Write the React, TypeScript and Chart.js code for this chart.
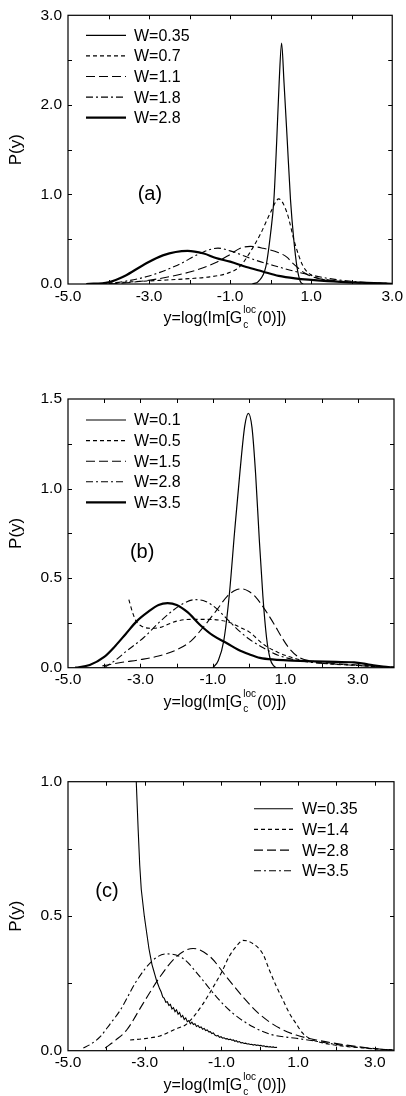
import React, { useEffect, useRef } from 'react';
import { Chart, registerables } from 'chart.js';

Chart.register(...registerables);

type Pt = [number, number];

// ---------- Panel (a) ----------
const aLegend = ['W=0.35', 'W=0.7', 'W=1.1', 'W=1.8', 'W=2.8'];
const aXTicks = [-5, -3, -1, 1, 3];
const aYTicks = [0, 1, 2, 3];
const aW035: Pt[] = [[-0.45,0],[-0.3,0.03],[-0.12,0.19],[0.0,0.57],[0.08,0.94],[0.15,1.6],[0.21,2.25],[0.27,2.69],[0.33,2.25],[0.41,1.6],[0.49,0.94],[0.57,0.5],[0.65,0.19],[0.73,0.03],[0.8,0]];
const aW07: Pt[] = [[-4.0,0.005],[-3.6,0.02],[-2.75,0.04],[-2.0,0.06],[-1.5,0.08],[-1.0,0.13],[-0.75,0.2],[-0.5,0.36],[-0.25,0.56],[0.0,0.8],[0.2,0.95],[0.4,0.8],[0.6,0.45],[0.8,0.2],[1.0,0.1],[1.25,0.055],[1.5,0.035],[2.0,0.018],[2.5,0.008],[3.0,0.003]];
const aW11: Pt[] = [[-4.0,0],[-3.4,0.02],[-2.75,0.06],[-1.95,0.14],[-1.35,0.24],[-1.0,0.33],[-0.75,0.4],[-0.5,0.42],[-0.2,0.4],[0.2,0.35],[0.4,0.3],[0.55,0.23],[0.85,0.12],[1.1,0.07],[1.45,0.045],[2.0,0.02],[2.6,0.01],[3.0,0.005]];
const aW18: Pt[] = [[-4.2,0],[-3.6,0.03],[-3.0,0.09],[-2.3,0.21],[-1.7,0.35],[-1.3,0.4],[-1.0,0.37],[-0.4,0.27],[0.2,0.19],[0.6,0.14],[1.1,0.09],[1.45,0.06],[2.0,0.03],[2.6,0.01],[3.0,0.005]];
const aW28: Pt[] = [[-4.55,0],[-4.0,0.02],[-3.6,0.09],[-3.15,0.21],[-2.66,0.32],[-2.05,0.37],[-1.65,0.34],[-1.35,0.29],[-1.0,0.25],[-0.6,0.19],[-0.2,0.14],[0.2,0.09],[0.6,0.063],[1.4,0.033],[2.2,0.015],[3.0,0.003]];

// ---------- Panel (b) ----------
const bLegend = ['W=0.1', 'W=0.5', 'W=1.5', 'W=2.8', 'W=3.5'];
const bXTicks = [-5, -3, -1, 1, 3];
const bYTicks = [0, 0.5, 1.0, 1.5];
const bW01: Pt[] = [[-1.0,0],[-0.85,0.04],[-0.7,0.15],[-0.55,0.4],[-0.4,0.76],[-0.25,1.1],[-0.12,1.35],[-0.02,1.42],[0.08,1.34],[0.18,1.08],[0.28,0.72],[0.38,0.4],[0.48,0.17],[0.58,0.05],[0.68,0.01],[0.75,0]];
const bW05: Pt[] = [[-3.32,0.38],[-3.22,0.31],[-3.12,0.26],[-2.95,0.23],[-2.7,0.22],[-2.45,0.225],[-2.2,0.245],[-2.0,0.26],[-1.6,0.27],[-1.2,0.27],[-0.8,0.265],[-0.5,0.25],[-0.25,0.225],[0.0,0.2],[0.4,0.13],[0.8,0.085],[1.3,0.05],[1.8,0.03],[2.3,0.02],[3.0,0.013],[3.5,0.006],[4.0,0.002]];
const bW15: Pt[] = [[-4.05,0.01],[-3.5,0.03],[-3.0,0.045],[-2.5,0.065],[-2.0,0.1],[-1.6,0.15],[-1.25,0.23],[-0.9,0.32],[-0.6,0.4],[-0.35,0.435],[-0.2,0.44],[0.0,0.425],[0.2,0.39],[0.45,0.32],[0.7,0.24],[0.9,0.17],[1.1,0.11],[1.4,0.055],[1.8,0.035],[2.3,0.025],[3.0,0.015],[3.6,0.007],[4.0,0.003]];
const bW28: Pt[] = [[-4.0,0],[-3.7,0.04],[-3.4,0.09],[-2.9,0.17],[-2.5,0.25],[-2.1,0.32],[-1.8,0.36],[-1.5,0.38],[-1.2,0.37],[-0.9,0.33],[-0.6,0.27],[-0.3,0.21],[0.0,0.16],[0.4,0.11],[0.8,0.07],[1.3,0.042],[1.8,0.028],[2.4,0.02],[3.0,0.012],[3.6,0.005],[4.0,0.002]];
const bW35: Pt[] = [[-4.8,0],[-4.4,0.015],[-4.0,0.06],[-3.7,0.12],[-3.4,0.19],[-3.1,0.26],[-2.8,0.31],[-2.5,0.35],[-2.25,0.36],[-2.0,0.35],[-1.7,0.31],[-1.36,0.24],[-1.0,0.18],[-0.6,0.135],[-0.3,0.1],[0.0,0.075],[0.3,0.055],[0.7,0.045],[1.2,0.04],[1.8,0.035],[2.4,0.032],[2.9,0.03],[3.3,0.018],[3.7,0.006],[4.0,0]];

// ---------- Panel (c) ----------
const cLegend = ['W=0.35', 'W=1.4', 'W=2.8', 'W=3.5'];
const cXTicks = [-5, -3, -1, 1, 3];
const cYTicks = [0, 0.5, 1.0];
const cW035: Pt[] = [[-3.22,1.0],[-3.17,0.82],[-3.13,0.69],[-3.09,0.6],[-3.05,0.55],[-3.01,0.5],[-2.97,0.46],[-2.93,0.42],[-2.89,0.38],[-2.85,0.35],[-2.81,0.32],[-2.77,0.3],[-2.73,0.28],[-2.69,0.26],[-2.65,0.245],[-2.61,0.23],[-2.57,0.218],[-2.53,0.2],[-2.49,0.195],[-2.45,0.18],[-2.41,0.182],[-2.37,0.168],[-2.33,0.172],[-2.29,0.155],[-2.25,0.16],[-2.21,0.145],[-2.17,0.152],[-2.13,0.136],[-2.09,0.142],[-2.05,0.125],[-2.01,0.131],[-1.97,0.116],[-1.93,0.122],[-1.89,0.108],[-1.85,0.112],[-1.81,0.1],[-1.77,0.106],[-1.73,0.097],[-1.69,0.1],[-1.65,0.09],[-1.61,0.094],[-1.57,0.086],[-1.53,0.088],[-1.49,0.08],[-1.45,0.083],[-1.41,0.075],[-1.37,0.077],[-1.33,0.07],[-1.29,0.071],[-1.25,0.064],[-1.21,0.066],[-1.17,0.058],[-1.13,0.055],[-1.09,0.057],[-1.05,0.05],[-1.01,0.052],[-0.97,0.047],[-0.93,0.048],[-0.89,0.044],[-0.85,0.045],[-0.81,0.041],[-0.77,0.043],[-0.73,0.039],[-0.69,0.04],[-0.65,0.035],[-0.61,0.037],[-0.57,0.032],[-0.53,0.034],[-0.49,0.029],[-0.45,0.03],[-0.41,0.027],[-0.37,0.028],[-0.33,0.025],[-0.29,0.026],[-0.25,0.023],[-0.21,0.024],[-0.17,0.021],[-0.13,0.023],[-0.09,0.02],[-0.05,0.021],[-0.01,0.019],[0.03,0.02],[0.07,0.017],[0.11,0.018],[0.15,0.015],[0.19,0.016],[0.23,0.014],[0.27,0.015],[0.31,0.013],[0.35,0.014],[0.39,0.012],[0.43,0.013],[0.45,0.012]];
const cW14: Pt[] = [[-3.38,0.04],[-3.0,0.045],[-2.6,0.055],[-2.2,0.08],[-1.9,0.1],[-1.5,0.17],[-1.2,0.24],[-1.0,0.29],[-0.8,0.35],[-0.6,0.39],[-0.44,0.41],[-0.2,0.4],[0.08,0.36],[0.25,0.3],[0.43,0.24],[0.6,0.19],[0.77,0.14],[0.95,0.1],[1.12,0.065],[1.3,0.045],[1.5,0.034],[1.9,0.022],[2.3,0.015],[2.7,0.01],[3.1,0.006],[3.5,0.003]];
const cW28: Pt[] = [[-4.03,0.01],[-3.75,0.04],[-3.47,0.077],[-3.04,0.176],[-2.6,0.275],[-2.17,0.35],[-1.74,0.38],[-1.3,0.35],[-0.87,0.275],[-0.44,0.2],[0.0,0.135],[0.5,0.085],[0.95,0.058],[1.47,0.04],[2.25,0.021],[2.85,0.01],[3.3,0.004],[3.5,0.002]];
const cW35: Pt[] = [[-4.6,0.01],[-4.4,0.025],[-4.16,0.052],[-3.9,0.1],[-3.64,0.15],[-3.21,0.26],[-2.78,0.337],[-2.43,0.36],[-2.0,0.343],[-1.56,0.275],[-1.13,0.2],[-0.7,0.139],[-0.18,0.089],[0.3,0.06],[0.95,0.046],[1.47,0.035],[2.25,0.018],[2.9,0.008],[3.4,0.003]];

// ---------- styles ----------
const SOLID: number[] = [];
const SHORT = [4, 3];
const LONG = [9, 4];
const DASHDOT = [7, 3, 2, 3];
const FONT = 'Arial, "Liberation Sans", Helvetica, sans-serif';

type Series = { data: Pt[]; dash: number[]; width: number; label: string; tension?: boolean };

type PanelCfg = {
  top: number;
  height: number;
  padTop: number;
  xAxisH: number;
  xMin: number; xMax: number;
  yMin: number; yMax: number;
  xTicks: number[]; yTicks: number[];
  xMinor: number; yMinor: number;
  series: Series[];
  letter: string; letterX: number; letterY: number;
  legX0: number; legX1: number; legTx: number; legY: number; legDy: number;
};

const panels: PanelCfg[] = [
  {
    top: 0, height: 340, padTop: 15, xAxisH: 56,
    xMin: -5, xMax: 3, yMin: 0, yMax: 3,
    xTicks: aXTicks, yTicks: aYTicks, xMinor: 1, yMinor: 0.5,
    series: [
      { data: aW035, dash: SOLID, width: 1.2, label: aLegend[0] },
      { data: aW07, dash: SHORT, width: 1.1, label: aLegend[1] },
      { data: aW11, dash: LONG, width: 1.1, label: aLegend[2] },
      { data: aW18, dash: DASHDOT, width: 1.1, label: aLegend[3] },
      { data: aW28, dash: SOLID, width: 2.2, label: aLegend[4] },
    ],
    letter: '(a)', letterX: -3.28, letterY: 0.94,
    legX0: 18, legX1: 58, legTx: 66, legY: 20, legDy: 20.6,
  },
  {
    top: 340, height: 380, padTop: 59, xAxisH: 52.3,
    xMin: -5, xMax: 4, yMin: 0, yMax: 1.5,
    xTicks: bXTicks, yTicks: bYTicks, xMinor: 1, yMinor: 0.25,
    series: [
      { data: bW01, dash: SOLID, width: 1.2, label: bLegend[0] },
      { data: bW05, dash: SHORT, width: 1.1, label: bLegend[1] },
      { data: bW15, dash: LONG, width: 1.1, label: bLegend[2] },
      { data: bW28, dash: DASHDOT, width: 1.1, label: bLegend[3] },
      { data: bW35, dash: SOLID, width: 2.2, label: bLegend[4] },
    ],
    letter: '(b)', letterX: -3.29, letterY: 0.61,
    legX0: 18, legX1: 58, legTx: 66, legY: 21, legDy: 20.6,
  },
  {
    top: 720, height: 376, padTop: 61.7, xAxisH: 45.3,
    xMin: -5, xMax: 3.5, yMin: 0, yMax: 1.0,
    xTicks: cXTicks, yTicks: cYTicks, xMinor: 1, yMinor: 0.25,
    series: [
      { data: cW035, dash: SOLID, width: 1.1, label: cLegend[0], tension: false },
      { data: cW14, dash: SHORT, width: 1.1, label: cLegend[1] },
      { data: cW28, dash: LONG, width: 1.1, label: cLegend[2] },
      { data: cW35, dash: DASHDOT, width: 1.1, label: cLegend[3] },
    ],
    letter: '(c)', letterX: -4.29, letterY: 0.57,
    legX0: 186, legX1: 225, legTx: 234, legY: 27, legDy: 20.7,
  },
];

function makeDecor(cfg: PanelCfg) {
  return {
    id: 'decor',
    afterDraw(chart: any) {
      const ctx: CanvasRenderingContext2D = chart.ctx;
      const { left, right, top, bottom } = chart.chartArea;
      const xs = chart.scales.x;
      const ys = chart.scales.y;
      ctx.save();
      ctx.strokeStyle = '#000';
      ctx.fillStyle = '#000';
      ctx.setLineDash([]);
      ctx.lineWidth = 1.2;
      ctx.strokeRect(left, top, right - left, bottom - top);
      // inward ticks, mirrored
      ctx.lineWidth = 1;
      const tl = 4;
      for (let v = cfg.xMin + cfg.xMinor; v < cfg.xMax - 1e-9; v += cfg.xMinor) {
        const p = Math.round(xs.getPixelForValue(v)) + 0.5;
        ctx.beginPath();
        ctx.moveTo(p, bottom); ctx.lineTo(p, bottom - tl);
        ctx.moveTo(p, top); ctx.lineTo(p, top + tl);
        ctx.stroke();
      }
      for (let v = cfg.yMin + cfg.yMinor; v < cfg.yMax - 1e-9; v += cfg.yMinor) {
        const p = Math.round(ys.getPixelForValue(v)) + 0.5;
        ctx.beginPath();
        ctx.moveTo(left, p); ctx.lineTo(left + tl, p);
        ctx.moveTo(right, p); ctx.lineTo(right - tl, p);
        ctx.stroke();
      }
      // legend
      cfg.series.forEach((s, i) => {
        const y = top + cfg.legY + i * cfg.legDy;
        ctx.lineWidth = s.width;
        ctx.setLineDash(s.dash);
        ctx.beginPath();
        ctx.moveTo(left + cfg.legX0, y);
        ctx.lineTo(left + cfg.legX1, y);
        ctx.stroke();
        ctx.setLineDash([]);
        ctx.font = `16px ${FONT}`;
        ctx.textAlign = 'left';
        ctx.textBaseline = 'middle';
        ctx.fillText(s.label, left + cfg.legTx, y + 1);
      });
      // panel letter
      ctx.font = `20px ${FONT}`;
      ctx.textAlign = 'left';
      ctx.textBaseline = 'alphabetic';
      ctx.fillText(cfg.letter, xs.getPixelForValue(cfg.letterX), ys.getPixelForValue(cfg.letterY));
      // y title
      ctx.save();
      ctx.translate(16, (top + bottom) / 2);
      ctx.rotate(-Math.PI / 2);
      ctx.font = `17px ${FONT}`;
      ctx.textAlign = 'center';
      ctx.textBaseline = 'middle';
      ctx.fillText('P(y)', 0, 0);
      ctx.restore();
      // x title with sub/superscript
      const base = bottom + 39;
      const mainFont = `16px ${FONT}`;
      const smallFont = `10px ${FONT}`;
      const p1 = 'y=log(Im[G';
      const p2 = '(0)])';
      ctx.font = mainFont;
      const w1 = ctx.measureText(p1).width;
      const w3 = ctx.measureText(p2).width;
      ctx.font = smallFont;
      const w2 = Math.max(ctx.measureText('loc').width, ctx.measureText('c').width);
      const total = w1 + w2 + w3 + 2;
      let x = 225 - total / 2;
      ctx.textAlign = 'left';
      ctx.textBaseline = 'alphabetic';
      ctx.font = mainFont;
      ctx.fillText(p1, x, base);
      x += w1;
      ctx.font = smallFont;
      ctx.fillText('c', x + 1, base + 5);
      ctx.fillText('loc', x + 1, base - 10);
      x += w2 + 2;
      ctx.font = mainFont;
      ctx.fillText(p2, x, base);
      ctx.restore();
    },
  };
}

function Panel({ cfg }: { cfg: PanelCfg }) {
  const ref = useRef<HTMLCanvasElement>(null);
  useEffect(() => {
    if (!ref.current) return;
    const chart = new Chart(ref.current, {
      type: 'scatter',
      data: {
        datasets: cfg.series.map((s) => ({
          label: s.label,
          data: s.data.map(([x, y]) => ({ x, y })),
          showLine: true,
          borderColor: '#000',
          backgroundColor: '#000',
          borderWidth: s.width,
          borderDash: s.dash,
          pointRadius: 0,
          pointHoverRadius: 0,
          fill: false,
          cubicInterpolationMode: s.tension === false ? 'default' : 'monotone',
          tension: 0,
        })) as any,
      },
      options: {
        responsive: false,
        animation: false,
        devicePixelRatio: 1,
        layout: { padding: { top: cfg.padTop, right: 12, left: 0, bottom: 0 } },
        plugins: { legend: { display: false }, tooltip: { enabled: false }, title: { display: false } },
        events: [],
        scales: {
          x: {
            type: 'linear',
            min: cfg.xMin,
            max: cfg.xMax,
            afterBuildTicks: (s: any) => { s.ticks = cfg.xTicks.map((v) => ({ value: v })); },
            afterFit: (s: any) => { s.height = cfg.xAxisH; },
            grid: { display: false, drawTicks: false },
            border: { display: false },
            ticks: {
              color: '#000',
              font: { family: FONT, size: 15.5 },
              padding: 3,
              maxRotation: 0,
              autoSkip: false,
              callback: (v: any) => Number(v).toFixed(1),
            },
          },
          y: {
            type: 'linear',
            min: cfg.yMin,
            max: cfg.yMax,
            afterBuildTicks: (s: any) => { s.ticks = cfg.yTicks.map((v) => ({ value: v })); },
            afterFit: (s: any) => { s.width = 68; },
            grid: { display: false, drawTicks: false },
            border: { display: false },
            ticks: {
              color: '#000',
              font: { family: FONT, size: 15.5 },
              padding: 6,
              autoSkip: false,
              callback: (v: any) => Number(v).toFixed(1),
            },
          },
        },
      } as any,
      plugins: [makeDecor(cfg)],
    });
    return () => chart.destroy();
  }, [cfg]);
  return (
    <canvas
      ref={ref}
      width={406}
      height={cfg.height}
      style={{ position: 'absolute', left: 0, top: cfg.top, width: 406, height: cfg.height, display: 'block' }}
    />
  );
}

export default function App() {
  return (
    <div style={{ position: 'absolute', left: 0, top: 0, width: 406, height: 1096, background: '#fff' }}>
      {panels.map((p, i) => (
        <Panel key={i} cfg={p} />
      ))}
    </div>
  );
}
